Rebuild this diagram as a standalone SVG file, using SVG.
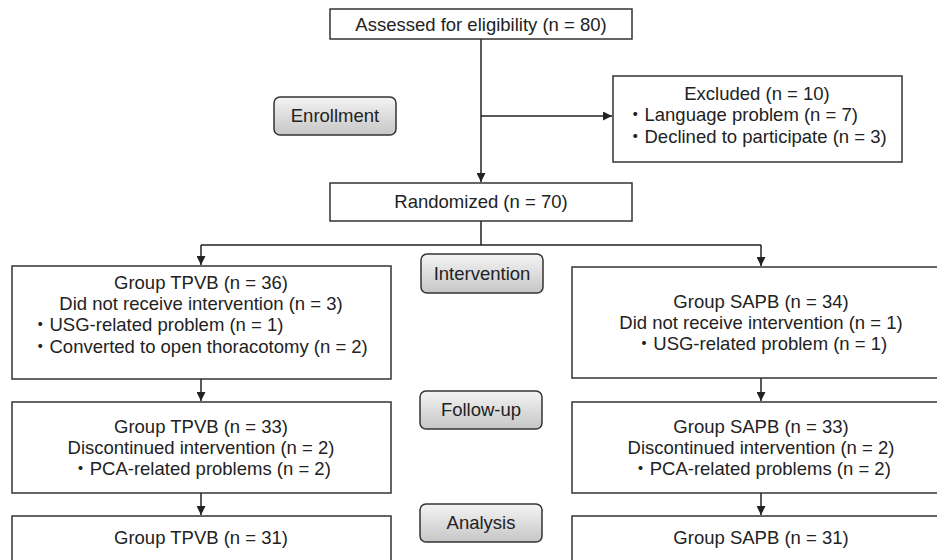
<svg xmlns="http://www.w3.org/2000/svg" width="937" height="560" viewBox="0 0 937 560">
<defs>
<linearGradient id="btn" x1="0" y1="0" x2="0" y2="1">
<stop offset="0" stop-color="#f4f4f4"/>
<stop offset="1" stop-color="#c6c6c6"/>
</linearGradient>
<marker id="arr" viewBox="0 0 10 10" refX="10" refY="5" markerWidth="9" markerHeight="9" markerUnits="userSpaceOnUse" orient="auto">
<path d="M0,0 L10,5 L0,10 z" fill="#222"/>
</marker>
<style>
.box{fill:#fff;stroke:#333;stroke-width:1.5}
.btn{fill:url(#btn);stroke:#333;stroke-width:1.5}
text{font-family:"Liberation Sans","Noto Sans CJK JP",Arial,sans-serif;font-size:18.5px;fill:#222}
.c{text-anchor:middle}
.ln{fill:none;stroke:#222;stroke-width:1.5}
</style>
</defs>
<rect width="937" height="560" fill="#fff"/>
<g id="connectors">
<path class="ln" d="M481,39 V182" marker-end="url(#arr)"/>
<path class="ln" d="M481,116 H612" marker-end="url(#arr)"/>
<path class="ln" d="M481,221 V245 M201,245 H761"/>
<path class="ln" d="M201,245 V265" marker-end="url(#arr)"/>
<path class="ln" d="M761,245 V266" marker-end="url(#arr)"/>
<path class="ln" d="M201,379 V401" marker-end="url(#arr)"/>
<path class="ln" d="M761,378 V401" marker-end="url(#arr)"/>
<path class="ln" d="M201,493 V515" marker-end="url(#arr)"/>
<path class="ln" d="M761,493 V515" marker-end="url(#arr)"/>
</g>
<g id="assessed">
<rect class="box" x="330" y="9" width="302" height="30"/>
<text class="c" x="481" y="31">Assessed for eligibility (n = 80)</text>
</g>
<g id="excluded">
<rect class="box" x="613" y="76" width="289" height="86"/>
<text class="c" x="757" y="100">Excluded (n = 10)</text>
<text x="626" y="121">・Language problem (n = 7)</text>
<text x="626" y="143">・Declined to participate (n = 3)</text>
</g>
<g id="randomized">
<rect class="box" x="330" y="183" width="302" height="38"/>
<text class="c" x="481" y="208">Randomized (n = 70)</text>
</g>
<g id="label-enrollment">
<rect class="btn" x="274" y="97" width="122" height="38" rx="6"/>
<text class="c" x="335" y="122">Enrollment</text>
</g>
<g id="label-intervention">
<rect class="btn" x="421" y="254" width="122" height="39" rx="6"/>
<text class="c" x="482" y="280">Intervention</text>
</g>
<g id="label-followup">
<rect class="btn" x="420" y="391" width="122" height="38" rx="6"/>
<text class="c" x="481" y="416">Follow-up</text>
</g>
<g id="label-analysis">
<rect class="btn" x="420" y="504" width="122" height="38" rx="6"/>
<text class="c" x="481" y="529">Analysis</text>
</g>
<g id="tpvb-1">
<rect class="box" x="12" y="266" width="379" height="113"/>
<text class="c" x="201" y="289">Group TPVB (n = 36)</text>
<text class="c" x="201" y="310">Did not receive intervention (n = 3)</text>
<text x="31" y="331">・USG-related problem (n = 1)</text>
<text x="31" y="353">・Converted to open thoracotomy (n = 2)</text>
</g>
<g id="sapb-1">
<rect class="box" x="572" y="267" width="380" height="111"/>
<text class="c" x="761" y="308">Group SAPB (n = 34)</text>
<text class="c" x="761" y="329">Did not receive intervention (n = 1)</text>
<text class="c" x="761" y="350">・USG-related problem (n = 1)</text>
</g>
<g id="tpvb-2">
<rect class="box" x="12" y="402" width="379" height="91"/>
<text class="c" x="201" y="433">Group TPVB (n = 33)</text>
<text class="c" x="201" y="454">Discontinued intervention (n = 2)</text>
<text class="c" x="201" y="475">・PCA-related problems (n = 2)</text>
</g>
<g id="sapb-2">
<rect class="box" x="572" y="402" width="380" height="91"/>
<text class="c" x="761" y="433">Group SAPB (n = 33)</text>
<text class="c" x="761" y="454">Discontinued intervention (n = 2)</text>
<text class="c" x="761" y="475">・PCA-related problems (n = 2)</text>
</g>
<g id="tpvb-3">
<rect class="box" x="12" y="516" width="379" height="60"/>
<text class="c" x="201" y="544">Group TPVB (n = 31)</text>
</g>
<g id="sapb-3">
<rect class="box" x="572" y="516" width="380" height="60"/>
<text class="c" x="761" y="544">Group SAPB (n = 31)</text>
</g>
</svg>
